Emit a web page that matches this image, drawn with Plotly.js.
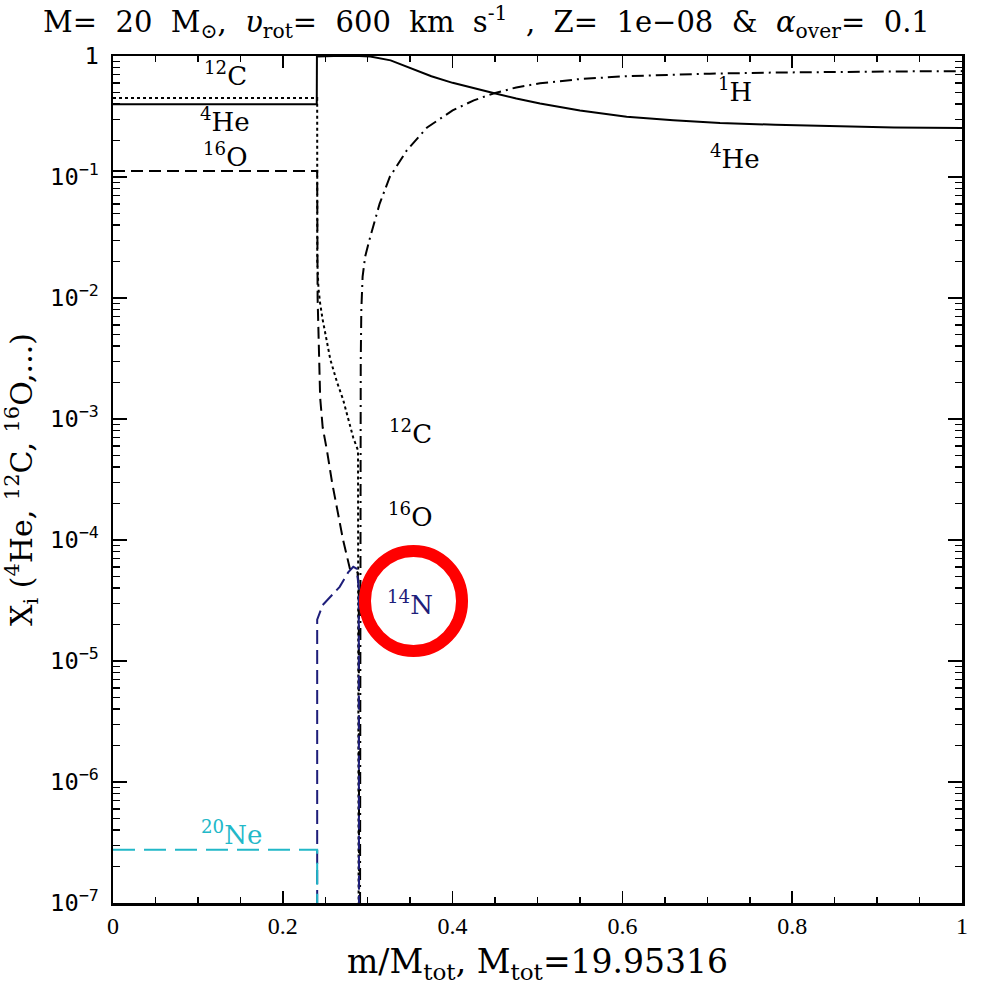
<!DOCTYPE html>
<html>
<head>
<meta charset="utf-8">
<script src="https://cdn.plot.ly/plotly-3.0.1.min.js"></script>
<style>html,body{margin:0;padding:0;background:#fff;}#chart{width:1000px;height:991px;}</style>
</head>
<body>
<div id="chart"></div>
<script>
// ---- data (mass coordinate m/Mtot, mass fraction X_i) ----
const xHe4 = [0, 0.2400, 0.2402, 0.26, 0.29, 0.303, 0.327, 0.353, 0.375, 0.40, 0.425, 0.448, 0.475, 0.503, 0.55, 0.605, 0.66, 0.715, 0.78, 0.84, 0.92, 1.0];
const yHe4 = [0.40, 0.40, 0.99, 1.0, 1.0, 0.99, 0.92, 0.78, 0.68, 0.60, 0.54, 0.495, 0.445, 0.405, 0.355, 0.315, 0.295, 0.28, 0.27, 0.263, 0.257, 0.254];

const xH1 = [0.2908, 0.2912, 0.2918, 0.2925, 0.294, 0.297, 0.303, 0.314, 0.326, 0.346, 0.370, 0.400, 0.425, 0.448, 0.475, 0.503, 0.55, 0.603, 0.66, 0.703, 0.78, 0.84, 0.92, 1.0];
const yH1 = [1e-8, 1e-4, 3e-3, 8e-3, 1.5e-2, 2.2e-2, 3.2e-2, 6e-2, 0.1, 0.166, 0.257, 0.355, 0.43, 0.49, 0.55, 0.595, 0.645, 0.68, 0.70, 0.715, 0.73, 0.74, 0.745, 0.75];

const xC12 = [0, 0.2405, 0.2406, 0.242, 0.244, 0.247, 0.256, 0.264, 0.271, 0.277, 0.283, 0.2886, 0.2895];
const yC12 = [0.45, 0.45, 2e-2, 1.2e-2, 9e-3, 6.6e-3, 3.1e-3, 2e-3, 1.45e-3, 1e-3, 7e-4, 5.5e-4, 1e-8];

const xO16 = [0, 0.2405, 0.241, 0.2425, 0.244, 0.247, 0.252, 0.258, 0.265, 0.271, 0.279, 0.284, 0.288, 0.2895, 0.2900];
const yO16 = [0.112, 0.112, 1e-2, 3e-3, 1.5e-3, 8.5e-4, 5.5e-4, 3e-4, 1.6e-4, 1e-4, 5.8e-5, 5.6e-5, 5.4e-5, 4e-5, 1e-8];

const xN14 = [0.2405, 0.2405, 0.247, 0.26, 0.267, 0.277, 0.283, 0.287, 0.2895, 0.2898];
const yN14 = [1e-8, 2.2e-5, 2.9e-5, 3.6e-5, 4.1e-5, 5.4e-5, 6e-5, 5.8e-5, 4e-5, 1e-8];

const xNe20 = [0, 0.2405, 0.2406];
const yNe20 = [2.75e-7, 2.75e-7, 1e-8];

// ---- labels ----
const labelText = ['<sup>12</sup>C', '<sup>4</sup>He', '<sup>16</sup>O', '<sup>1</sup>H', '<sup>4</sup>He', '<sup>12</sup>C', '<sup>16</sup>O', '<sup>14</sup>N', '<sup>20</sup>Ne'];
const labelX = [0.132, 0.132, 0.132, 0.733, 0.733, 0.35, 0.35, 0.35, 0.14];
const labelLogY = [-0.15, -0.53, -0.82, -0.28, -0.835, -3.107, -3.79, -4.52, -6.42];
const labelColor = ['#000', '#000', '#000', '#000', '#000', '#000', '#000', '#1e1e7a', '#22b8c8'];

const serif = 'DejaVu Serif, serif';
const S = '&nbsp; ';

const traces = [
  {x: xHe4, y: yHe4, name: '4He', mode: 'lines', line: {color: '#000', width: 2, dash: 'solid'}},
  {x: xH1, y: yH1, name: '1H', mode: 'lines', line: {color: '#000', width: 2, dash: '12px,5px,2px,5px'}},
  {x: xC12, y: yC12, name: '12C', mode: 'lines', line: {color: '#000', width: 2, dash: 'dot'}},
  {x: xO16, y: yO16, name: '16O', mode: 'lines', line: {color: '#000', width: 2, dash: '12px,6px'}},
  {x: xN14, y: yN14, name: '14N', mode: 'lines', line: {color: '#1e1e7a', width: 2, dash: '14px,6px'}},
  {x: xNe20, y: yNe20, name: '20Ne', mode: 'lines', line: {color: '#22b8c8', width: 2, dash: '22px,9px'}}
];

const annotations = labelText.map((t, i) => ({
  x: labelX[i], y: labelLogY[i], xref: 'x', yref: 'y', text: t, showarrow: false,
  font: {family: serif, size: 26, color: labelColor[i]}, xanchor: 'center', yanchor: 'middle'
}));

const layout = {
  width: 1000, height: 991,
  margin: {l: 113, r: 38, t: 56, b: 88},
  paper_bgcolor: '#fff', plot_bgcolor: '#fff',
  showlegend: false,
  title: {
    text: 'M=' + S + '20' + S + 'M<sub>\u2299</sub>,' + S + '<i>\u03c5</i><sub>rot</sub>=' + S + '600' + S + 'km' + S + 's<sup>-1</sup>' + S + ',' + S + 'Z=' + S + '1e\u221208' + S + '&amp;' + S + '<i>\u03b1</i><sub>over</sub>=' + S + '0.1',
    font: {family: serif, size: 29, color: '#000'},
    x: 0.043, xref: 'container', xanchor: 'left',
    y: 0.978, yref: 'container', yanchor: 'middle'
  },
  xaxis: {
    range: [0, 1], tickmode: 'linear', tick0: 0, dtick: 0.2,
    ticks: 'inside', ticklen: 12, tickwidth: 1.5, tickcolor: '#000',
    minor: {dtick: 0.05, ticks: 'inside', ticklen: 6, tickwidth: 1.5, tickcolor: '#000', showgrid: false},
    showline: true, linecolor: '#000', linewidth: 2.5, mirror: 'ticks',
    showgrid: false, zeroline: false,
    tickfont: {family: 'Liberation Serif, serif', size: 24, color: '#000'},
    title: {text: 'm/M<sub>tot</sub>, M<sub>tot</sub>=19.95316', font: {family: serif, size: 33, color: '#000'}, standoff: 12}
  },
  yaxis: {
    type: 'log', range: [-7, 0], tickmode: 'linear', tick0: 0, dtick: 1,
    exponentformat: 'power',
    ticks: 'inside', ticklen: 14, tickwidth: 1.5, tickcolor: '#000',
    minor: {dtick: 'D1', ticks: 'inside', ticklen: 7, tickwidth: 1.5, tickcolor: '#000', showgrid: false},
    showline: true, linecolor: '#000', linewidth: 2.5, mirror: 'ticks',
    showgrid: false, zeroline: false,
    ticklabelstandoff: 8,
    tickfont: {family: 'DejaVu Sans Mono, monospace', size: 19, color: '#000'},
    title: {text: 'X<sub>i</sub> (<sup>4</sup>He, <sup>12</sup>C, <sup>16</sup>O,...)', font: {family: serif, size: 30, color: '#000'}, standoff: 10}
  },
  annotations: annotations,
  shapes: [{
    type: 'circle', xref: 'paper', yref: 'paper',
    x0: 0.2968, x1: 0.4111, y0: 0.2975, y1: 0.4156,
    line: {color: '#ff0000', width: 12}, fillcolor: 'rgba(0,0,0,0)'
  }]
};

Plotly.newPlot('chart', traces, layout, {staticPlot: true, displayModeBar: false});
</script>
</body>
</html>
